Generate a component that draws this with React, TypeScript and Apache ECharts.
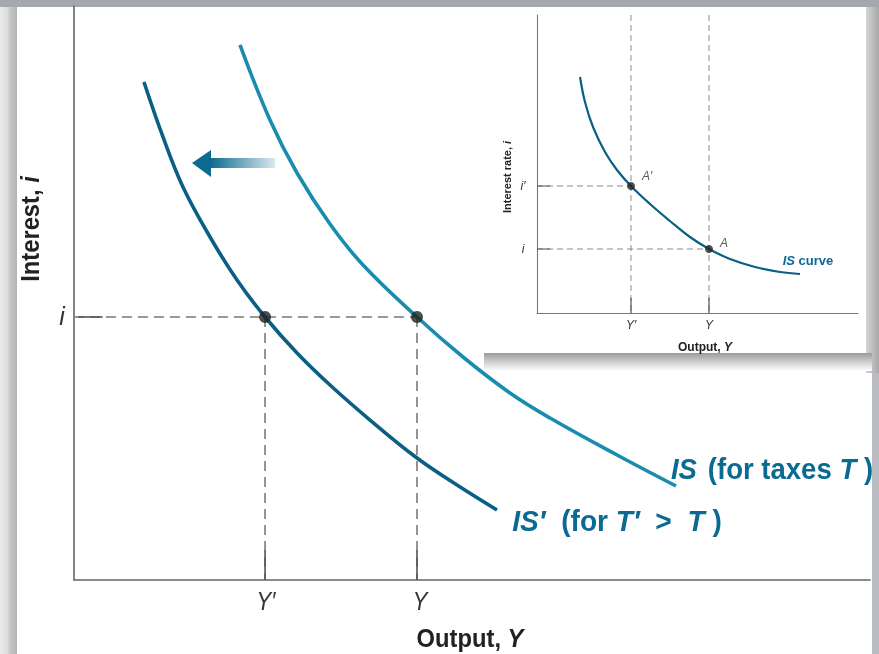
import React, { useEffect, useRef } from "react";
import * as echarts from "echarts";

// Main chart (output 0..100, interest 0..100)
const isPrimeX = [8.79, 11.18, 13.69, 17.09, 20.48, 24.0, 28.02, 32.16, 37.19, 43.09, 48.12, 53.14];
const isPrimeY = [86.76, 77.18, 68.47, 59.76, 52.26, 45.82, 39.55, 33.97, 27.87, 21.25, 16.55, 12.2];
const isX = [20.85, 24.62, 28.02, 32.16, 36.31, 43.09, 48.87, 54.77, 59.8, 68.22, 75.63];
const isY = [93.21, 80.14, 70.91, 62.02, 54.88, 45.82, 38.85, 32.58, 28.22, 21.78, 16.38];
const outputLevels = [24.0, 43.09]; // Y', Y
const outputLabels = ["Y\u2032", "Y"];
const rateLevel = 45.82; // i

// Inset chart
const insetX = [13.4, 14.95, 17.45, 21.18, 24.92, 29.28, 35.2, 41.43, 47.66, 53.58, 60.12, 67.91, 75.7, 81.93];
const insetY = [79.19, 70.81, 62.42, 54.03, 47.99, 42.62, 36.58, 30.87, 25.5, 21.48, 18.12, 15.44, 13.76, 13.09];
const insetOutputs = [29.28, 53.58]; // Y', Y
const insetRates = [42.62, 21.48]; // i', i
const insetRateLabels = ["i\u2032", "i"];
const insetOutputLabels = ["Y\u2032", "Y"];
const insetPointLabels = ["A\u2032", "A"];

const SANS = "'Liberation Sans', Arial, sans-serif";
const DARK = "#0a5f84";
const LIGHT = "#1a8cae";
const LABEL = "#0b6a92";

function zip(xs: number[], ys: number[]) {
  return xs.map((x, k) => [x, ys[k]]);
}

export default function App() {
  const ref = useRef<HTMLDivElement>(null);
  useEffect(() => {
    if (!ref.current) return;
    const chart = echarts.init(ref.current, undefined, { renderer: "svg" });
    const axisBase = (gridIndex: number, w: number, color: string) => ({
      type: "value",
      gridIndex,
      min: 0,
      max: 100,
      z: 1,
      axisLine: { show: true, onZero: false, lineStyle: { color, width: w } },
      axisTick: { show: false },
      axisLabel: { show: false },
      splitLine: { show: false },
    });
    const dashMain = { color: "#7a7a7a", width: 1.6, type: [10, 6] };
    const solidMain = { color: "#555", width: 1.6, type: "solid" };
    const dashInset = { color: "#8a8a8a", width: 1, type: [6, 4] };
    const solidInset = { color: "#555", width: 1.2, type: "solid" };
    const seg = (xi: number, data: number[][], ls: any) => ({
      type: "line",
      xAxisIndex: xi,
      yAxisIndex: xi,
      data,
      symbol: "none",
      lineStyle: ls,
      z: 2,
      silent: true,
    });
    const series: any[] = [];
    series.push(seg(0, [[0, rateLevel], [outputLevels[1], rateLevel]], dashMain));
    series.push(seg(0, [[0.5, rateLevel], [3.6, rateLevel]], solidMain));
    outputLevels.forEach((x) => {
      series.push(seg(0, [[x, rateLevel], [x, 0]], dashMain));
      series.push(seg(0, [[x, 0], [x, 5.2]], solidMain));
    });
    insetOutputs.forEach((x) => {
      series.push(seg(1, [[x, 100], [x, 0]], dashInset));
      series.push(seg(1, [[x, 0], [x, 5]], solidInset));
    });
    insetRates.forEach((r, k) => {
      series.push(seg(1, [[0, r], [insetOutputs[k], r]], dashInset));
      series.push(seg(1, [[0, r], [4, r]], solidInset));
    });
    series.push({
      type: "line", xAxisIndex: 0, yAxisIndex: 0, data: zip(isPrimeX, isPrimeY),
      smooth: 0.4, symbol: "none", lineStyle: { color: DARK, width: 3.6 }, z: 3,
    });
    series.push({
      type: "line", xAxisIndex: 0, yAxisIndex: 0, data: zip(isX, isY),
      smooth: 0.4, symbol: "none", lineStyle: { color: LIGHT, width: 3.6 }, z: 3,
    });
    series.push({
      type: "line", xAxisIndex: 1, yAxisIndex: 1, data: zip(insetX, insetY),
      smooth: 0.4, symbol: "none", lineStyle: { color: DARK, width: 2.2 }, z: 3,
    });
    series.push({
      type: "scatter", xAxisIndex: 0, yAxisIndex: 0,
      data: outputLevels.map((x) => [x, rateLevel]),
      symbolSize: 12, itemStyle: { color: "#222" }, z: 4,
    });
    series.push({
      type: "scatter", xAxisIndex: 1, yAxisIndex: 1,
      data: insetOutputs.map((x, k) => ({
        value: [x, insetRates[k]],
        label: {
          show: true, formatter: insetPointLabels[k], position: "right",
          offset: k === 0 ? [2, -10] : [2, -6],
          fontFamily: SANS, fontStyle: "italic", fontSize: 12, color: "#333",
        },
      })),
      symbolSize: 8, itemStyle: { color: "#222" }, z: 4,
    });

    const shadowGrad = new echarts.graphic.LinearGradient(0, 0, 0, 1, [
      { offset: 0, color: "#9a9a9a" },
      { offset: 0.5, color: "#cfcfcf" },
      { offset: 1, color: "#ffffff" },
    ]);
    const rightGrad = new echarts.graphic.LinearGradient(0, 0, 1, 0, [
      { offset: 0, color: "#d4d4d4" },
      { offset: 1, color: "#a8a8a8" },
    ]);
    const leftGrad = new echarts.graphic.LinearGradient(0, 0, 1, 0, [
      { offset: 0, color: "#ececec" },
      { offset: 0.45, color: "#dcdcdc" },
      { offset: 0.6, color: "#c4c4c4" },
      { offset: 1, color: "#b4b4b4" },
    ]);
    const arrowGrad = new echarts.graphic.LinearGradient(0, 0, 1, 0, [
      { offset: 0, color: "#0a6a90" },
      { offset: 1, color: "rgba(10,106,144,0.15)" },
    ]);

    const bg: any[] = [
      { type: "rect", z: -5, shape: { x: 0, y: 0, width: 879, height: 654 }, style: { fill: "#b9bcc0" } },
      { type: "rect", z: -5, shape: { x: 0, y: 0, width: 879, height: 7 }, style: { fill: "#a5a9ae" } },
      { type: "rect", z: -4, shape: { x: 0, y: 7, width: 17, height: 647 }, style: { fill: leftGrad } },
      { type: "rect", z: -4, shape: { x: 17, y: 7, width: 855, height: 647 }, style: { fill: "#ffffff" } },
      { type: "rect", z: -4, shape: { x: 866, y: 7, width: 13, height: 366 }, style: { fill: rightGrad } },
      { type: "rect", z: -4, shape: { x: 484, y: 353, width: 388, height: 18 }, style: { fill: shadowGrad } },
      { type: "rect", z: -3, shape: { x: 490, y: 7, width: 376, height: 346 }, style: { fill: "#ffffff" } },
      { type: "rect", z: 5, shape: { x: 210, y: 158, width: 65, height: 10 }, style: { fill: arrowGrad } },
      { type: "polygon", z: 5, shape: { points: [[192, 163], [211, 150], [211, 177]] }, style: { fill: "#0a6a90" } },
    ];
    const txt = (x: number, y: number, text: string, style: any, extra: any = {}) => ({
      type: "text", z: 10, x, y, ...extra,
      style: { text, textAlign: "center", textVerticalAlign: "middle", ...style },
    });
    const richPair = (size: number, fill: string, bold = true) => ({
      a: { fontFamily: SANS, fontWeight: bold ? "bold" : "normal", fontSize: size, fill },
      b: { fontFamily: SANS, fontWeight: bold ? "bold" : "normal", fontStyle: "italic", fontSize: size, fill },
    });
    const labels: any[] = [
      ...outputLabels.map((t, k) =>
        txt(k === 0 ? 266 : 420, 602, t, { fontFamily: SANS, fontStyle: "italic", fontSize: 25, fill: "#333" }, { scaleX: 0.88 })
      ),
      txt(62, 316, "i", { fontFamily: SANS, fontStyle: "italic", fontSize: 25, fill: "#333" }),
      txt(470, 638, "{a|Output, }{b|Y}", { rich: richPair(25, "#222") }, { scaleX: 0.95 }),
      txt(30, 229, "{a|Interest, }{b|i}", { rich: richPair(25, "#222") }, { rotation: Math.PI / 2, scaleX: 0.95 }),
      txt(772, 469, "{b|IS} {a| (for taxes }{b|T}{a| )}", { rich: richPair(29, LABEL) }, { scaleX: 0.95 }),
      txt(617, 521, "{b|IS\u2032}{a|  (for }{b|T\u2032}{a|  >  }{b|T}{a| )}", { rich: richPair(29, LABEL) }, { scaleX: 0.97 }),
      ...insetRateLabels.map((t, k) =>
        txt(523, k === 0 ? 186 : 249, t, { fontFamily: SANS, fontStyle: "italic", fontSize: 12, fill: "#333" })
      ),
      ...insetOutputLabels.map((t, k) =>
        txt(k === 0 ? 631 : 709, 325, t, { fontFamily: SANS, fontStyle: "italic", fontSize: 12, fill: "#333" })
      ),
      txt(705, 347, "{a|Output, }{b|Y}", { rich: richPair(12, "#222") }),
      txt(507, 177, "{a|Interest rate, }{b|i}", { rich: richPair(11, "#222") }, { rotation: Math.PI / 2 }),
      txt(808, 260, "{b|IS}{a| curve}", { rich: richPair(13, LABEL) }),
    ];

    chart.setOption({
      animation: false,
      grid: [
        { left: 74, top: 6, width: 796, height: 574 },
        { left: 537, top: 15, width: 321, height: 298 },
      ],
      xAxis: [axisBase(0, 1.6, "#666"), axisBase(1, 1.1, "#777")],
      yAxis: [axisBase(0, 1.6, "#666"), axisBase(1, 1.1, "#777")],
      series,
      graphic: { elements: [...bg, ...labels] },
    });
    return () => chart.dispose();
  }, []);
  return (
    <div
      ref={ref}
      style={{ position: "fixed", left: 0, top: 0, width: 879, height: 654 }}
    />
  );
}
